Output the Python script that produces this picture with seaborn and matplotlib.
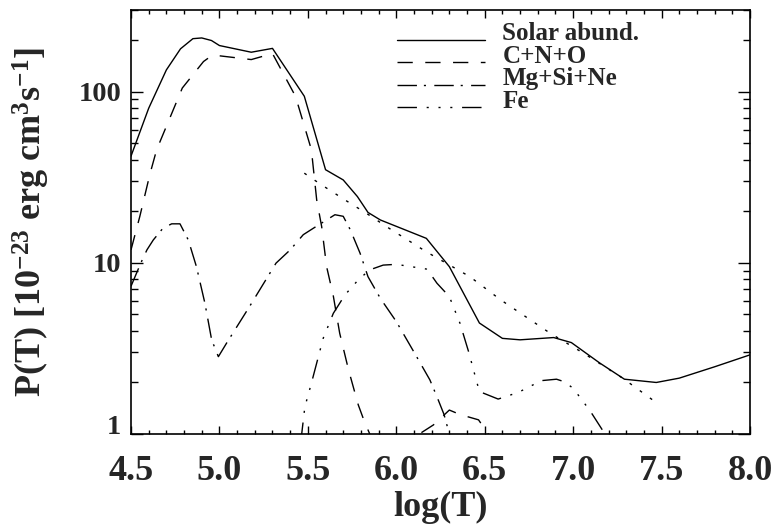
import numpy as np
import pandas as pd
import matplotlib
matplotlib.use("Agg")
import matplotlib.pyplot as plt
import matplotlib.ticker as mticker
from matplotlib.lines import Line2D
from matplotlib.legend_handler import HandlerLine2D
import seaborn as sns

# ---------------- data ----------------
solar_x = [4.50, 4.60, 4.70, 4.78, 4.85, 4.90, 4.955, 5.00, 5.18, 5.30, 5.48, 5.60,
           5.70, 5.78, 5.84, 5.91, 6.17, 6.30, 6.47, 6.60, 6.70, 6.89, 6.99, 7.15,
           7.29, 7.47, 7.60, 7.80, 8.00]
solar_y = [42, 80, 134, 178, 204, 206, 199, 186, 170, 179, 94, 35,
           30.5, 24.4, 19.7, 17.8, 13.9, 9.5, 4.45, 3.62, 3.55, 3.66, 3.42, 2.6,
           2.09, 2.0, 2.12, 2.47, 2.9]

cno_x = [4.50, 4.55, 4.607, 4.645, 4.70, 4.79, 4.91, 4.955, 5.00, 5.18, 5.30, 5.43,
         5.52, 5.55, 5.578, 5.606, 5.644, 5.68, 5.73, 5.785, 5.82, 5.85, 5.95, 6.05,
         6.13, 6.21, 6.30, 6.36, 6.465, 6.52, 6.60]
cno_y = [11.9, 18.7, 33, 45.8, 62.7, 105, 150, 162, 162, 154, 167, 94,
         45.8, 23.3, 16.3, 9.5, 6.4, 3.88, 2.37, 1.48, 1.18, 1.0, 0.7, 0.75,
         1.0, 1.13, 1.38, 1.3, 1.21, 1.0, 0.7]

mgsine_x = [4.50, 4.556, 4.59, 4.626, 4.68, 4.73, 4.777, 4.824, 4.87, 4.918, 4.956,
            4.994, 5.04, 5.17, 5.32, 5.40, 5.474, 5.53, 5.653, 5.70, 5.74, 5.795,
            5.84, 5.91, 6.00, 6.115, 6.19, 6.23, 6.27, 6.30, 6.38]
mgsine_y = [7.3, 10, 11.9, 13.6, 15.9, 16.9, 16.9, 13.6, 9.5, 5.8, 3.55,
            2.83, 3.39, 5.55, 9.96, 11.9, 14.6, 15.9, 19.1, 18.7, 15.6, 11.4,
            8.3, 6.2, 4.54, 2.83, 2.07, 1.65, 1.3, 1.0, 0.7]

fe_x = [5.46, 5.483, 5.52, 5.587, 5.644, 5.71, 5.785, 5.85, 5.926, 6.00, 6.17, 6.19,
        6.23, 6.30, 6.36, 6.41, 6.445, 6.47, 6.576, 6.69, 6.82, 6.906, 6.95, 7.00,
        7.095, 7.18, 7.25]
fe_y = [0.9, 1.44, 1.98, 3.63, 5.07, 6.5, 7.95, 9.1, 9.7, 9.8, 9.2, 8.7,
        7.6, 6.35, 4.44, 3.0, 2.2, 1.77, 1.6, 1.75, 2.05, 2.09, 2.02, 1.85,
        1.37, 1.0, 0.75]

dot_x = [5.48, 5.54, 5.597, 5.71, 5.83, 5.96, 6.17, 6.416, 6.59, 6.87, 7.06, 7.28, 7.45]
dot_y = [33.4, 30.3, 27.7, 23.3, 19.5, 15.9, 11.6, 8.3, 6.08, 3.88, 2.96, 2.12, 1.58]

series_labels = ["Solar abund.", "C+N+O", "Mg+Si+Ne", "Fe"]
xtick_labels = ["4.5", "5.0", "5.5", "6.0", "6.5", "7.0", "7.5", "8.0"]
ytick_labels = ["1", "10", "100"]

# ---------------- style ----------------
sns.set_style("ticks")
plt.rcParams["font.family"] = ["Liberation Serif", "DejaVu Serif"]
plt.rcParams["font.weight"] = "bold"
plt.rcParams["mathtext.fontset"] = "custom"
plt.rcParams["mathtext.rm"] = "Liberation Serif:bold"
plt.rcParams["mathtext.it"] = "Liberation Serif:bold"
plt.rcParams["mathtext.bf"] = "Liberation Serif:bold"
plt.rcParams["mathtext.default"] = "rm"

fig = plt.figure(figsize=(7.73, 5.26), dpi=100)
ax = fig.add_axes([131 / 773, 1 - 434 / 526, (750 - 131) / 773, (434 - 10) / 526])

styles = [
    "-",
    (0, (11, 9)),
    (0, (14, 5, 1.5, 6)),
    (0, (14, 7, 1.5, 7, 1.5, 7, 1.5, 7)),
]
data_sets = [(solar_x, solar_y), (cno_x, cno_y), (mgsine_x, mgsine_y), (fe_x, fe_y)]

for (xs, ys), lab, ls in zip(data_sets, series_labels, styles):
    df = pd.DataFrame({"logT": xs, "P": ys})
    sns.lineplot(data=df, x="logT", y="P", ax=ax, color="black", lw=1.0,
                 linestyle=ls, estimator=None, errorbar=None, sort=False,
                 label=lab, legend=False)

dfd = pd.DataFrame({"logT": dot_x, "P": dot_y})
sns.lineplot(data=dfd, x="logT", y="P", ax=ax, color="black", lw=1.0,
             linestyle=(0, (2.0, 7.0)), estimator=None, errorbar=None, sort=False,
             legend=False)

ax.set_yscale("log")
ax.set_xlim(4.5, 8.0)
ax.set_ylim(1, 300)

ax.xaxis.set_major_locator(mticker.FixedLocator([float(t) for t in xtick_labels]))
ax.xaxis.set_major_formatter(mticker.FixedFormatter(xtick_labels))
ax.xaxis.set_minor_locator(mticker.MultipleLocator(0.1))
ax.yaxis.set_major_locator(mticker.FixedLocator([float(t) for t in ytick_labels]))
ax.yaxis.set_major_formatter(mticker.FixedFormatter(ytick_labels))
ax.yaxis.set_minor_locator(mticker.LogLocator(base=10, subs=np.arange(2, 10)))
ax.yaxis.set_minor_formatter(mticker.NullFormatter())

ax.tick_params(axis="both", which="both", direction="in", top=True, right=True,
               color="black", width=1.0)
ax.tick_params(axis="x", which="major", length=5.8, labelsize=26, pad=15)
ax.tick_params(axis="x", which="minor", length=2.9)
ax.tick_params(axis="y", which="major", length=8.6, labelsize=20.5, pad=7)
ax.tick_params(axis="y", which="minor", length=5.0)
for lbl in ax.get_xticklabels() + ax.get_yticklabels():
    lbl.set_fontweight("bold")
# the lowest y label sits on the axis line (as in the reference)
ax.yaxis.get_major_ticks()[0].label1.set_verticalalignment("baseline")

for sp in ax.spines.values():
    sp.set_linewidth(1.2)
    sp.set_color("black")

ax.set_xlabel("log(T)", fontsize=26, fontweight="bold", labelpad=2)
ax.set_ylabel(r"P(T) [10$^{-23}$ erg cm$^{3}$s$^{-1}$]", fontsize=26,
              fontweight="bold", labelpad=19)


class BaselineHandler(HandlerLine2D):
    """Draw the legend sample line at the text baseline (IDL style)."""

    def create_artists(self, legend, orig_handle, xdescent, ydescent, width,
                       height, fontsize, trans):
        arts = super().create_artists(legend, orig_handle, xdescent, ydescent,
                                      width, height, fontsize, trans)
        for a in arts:
            if isinstance(a, Line2D):
                a.set_ydata(np.asarray(a.get_ydata(), dtype=float) - 0.33 * fontsize)
        return arts


handles, labels = ax.get_legend_handles_labels()
leg = ax.legend(handles, labels, loc="upper left", bbox_to_anchor=(0.411, 1.0),
                frameon=False, fontsize=18, handlelength=3.5, handletextpad=0.7,
                labelspacing=-0.015, borderaxespad=0.18, borderpad=0.3,
                handler_map={Line2D: BaselineHandler()})
for t in leg.get_texts():
    t.set_fontweight("bold")

fig.savefig("out.png", dpi=100)
